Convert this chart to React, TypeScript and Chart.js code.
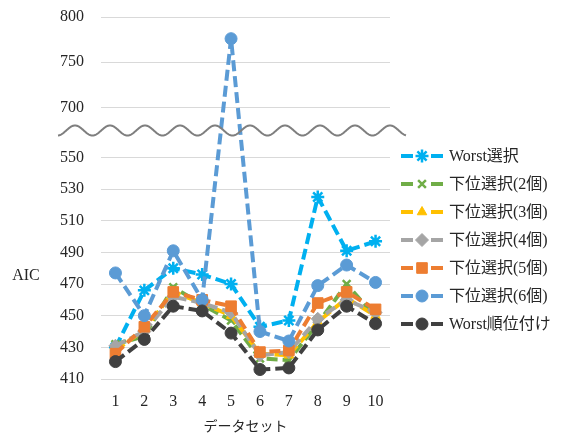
import React, { useEffect, useRef } from 'react';
import { Chart, registerables } from 'chart.js';
import { drawPoint } from 'chart.js/helpers';

Chart.register(...registerables);

// Data sets 1..10
const categories = ['1', '2', '3', '4', '5', '6', '7', '8', '9', '10'];

const worstSelect = [430, 466, 480, 476, 470, 443, 447, 525, 491, 497];
const lowerSelect2 = [432, 437, 468, 457, 447, 423, 422, 445, 470, 449];
const lowerSelect3 = [428, 441, 465, 458, 450, 426, 425, 446, 461, 450];
const lowerSelect4 = [431, 440, 462, 458, 452, 425, 427, 448, 460, 452];
const lowerSelect5 = [426, 443, 465, 460, 456, 427, 428, 458, 465, 454];
const lowerSelect6 = [477, 450, 491, 460, 776, 440, 434, 469, 482, 471];
const worstRanking = [421, 435, 456, 453, 439, 416, 417, 441, 456, 445];

const yTickValues = [410, 430, 450, 470, 490, 510, 530, 550, 700, 750, 800];

// Broken value axis: the lower band (410-570) and upper band (700-800)
// use different scales; values are mapped onto one linear axis.
const LOWER_MAX = 570;
const UPPER_START = 700;
const UPPER_START_AXIS = 581.6;
const UPPER_RATIO = 0.571;
const BREAK_AXIS = 567;

const toAxis = (v: number) =>
  v <= LOWER_MAX ? v : UPPER_START_AXIS + (v - UPPER_START) * UPPER_RATIO;
const fromAxis = (a: number) =>
  a <= LOWER_MAX + 0.5 ? a : UPPER_START + (a - UPPER_START_AXIS) / UPPER_RATIO;

const series = [
  { label: 'Worst選択', data: worstSelect, color: '#00B0F0', pointStyle: 'star', radius: 6.5, pw: 2.5 },
  { label: '下位選択(2個)', data: lowerSelect2, color: '#70AD47', pointStyle: 'crossRot', radius: 5.5, pw: 2.5 },
  { label: '下位選択(3個)', data: lowerSelect3, color: '#FFC000', pointStyle: 'triangle', radius: 5.5, pw: 1 },
  { label: '下位選択(4個)', data: lowerSelect4, color: '#A5A5A5', pointStyle: 'rectRot', radius: 6.5, pw: 1 },
  { label: '下位選択(5個)', data: lowerSelect5, color: '#ED7D31', pointStyle: 'rect', radius: 7.5, pw: 1 },
  { label: '下位選択(6個)', data: lowerSelect6, color: '#5B9BD5', pointStyle: 'circle', radius: 6, pw: 1 },
  { label: 'Worst順位付け', data: worstRanking, color: '#404040', pointStyle: 'circle', radius: 6, pw: 1 },
];

const SERIF = "'Liberation Serif', 'Noto Sans CJK JP', serif";
const TEXT_COLOR = '#262626';

const breakAndLegend = {
  id: 'breakAndLegend',
  afterDraw(chart: any) {
    const { ctx, chartArea, scales } = chart;
    const y = scales.y.getPixelForValue(BREAK_AXIS);

    // wavy break mark across the value axis
    ctx.save();
    ctx.strokeStyle = '#7F7F7F';
    ctx.lineWidth = 2;
    ctx.beginPath();
    const x0 = chartArea.left - 43;
    const x1 = chartArea.right + 16;
    const period = 35;
    const amp = 5;
    const phaseX = chartArea.left - 26;
    for (let x = x0; x <= x1; x += 0.5) {
      const yy = y - amp * Math.cos((2 * Math.PI * (x - phaseX)) / period);
      if (x === x0) ctx.moveTo(x, yy);
      else ctx.lineTo(x, yy);
    }
    ctx.stroke();
    ctx.restore();

    // value axis title
    ctx.save();
    ctx.fillStyle = TEXT_COLOR;
    ctx.font = `16px ${SERIF}`;
    ctx.textAlign = 'center';
    ctx.textBaseline = 'middle';
    ctx.fillText('AIC', 26, 276);
    ctx.restore();

    // legend
    ctx.save();
    series.forEach((s, i) => {
      const ly = 156 + i * 28;
      ctx.strokeStyle = s.color;
      ctx.fillStyle = s.color;
      ctx.lineWidth = 4;
      ctx.setLineDash([]);
      ctx.lineCap = 'butt';
      ctx.beginPath();
      ctx.moveTo(401, ly);
      ctx.lineTo(413, ly);
      ctx.moveTo(431, ly);
      ctx.lineTo(443, ly);
      ctx.stroke();
      ctx.lineWidth = s.pw;
      drawPoint(ctx, { pointStyle: s.pointStyle, radius: s.radius, rotation: 0, borderWidth: s.pw } as any, 422, ly);
      ctx.fillStyle = TEXT_COLOR;
      ctx.font = `16px ${SERIF}`;
      ctx.textAlign = 'left';
      ctx.textBaseline = 'middle';
      ctx.fillText(s.label, 449, ly + 1);
    });
    ctx.restore();
  },
};

export default function App() {
  const canvasRef = useRef<HTMLCanvasElement | null>(null);

  useEffect(() => {
    if (!canvasRef.current) return;
    const n = series.length;
    const chart = new Chart(canvasRef.current, {
      type: 'line',
      data: {
        labels: categories,
        datasets: series.map((s, i) => ({
          label: s.label,
          data: s.data.map(toAxis),
          borderColor: s.color,
          backgroundColor: s.color,
          borderWidth: 4,
          borderDash: [11, 5],
          borderJoinStyle: 'round' as const,
          pointStyle: s.pointStyle as any,
          pointRadius: s.radius,
          pointBorderWidth: s.pw,
          pointBorderColor: s.color,
          pointBackgroundColor: s.color,
          fill: false,
          tension: 0,
          order: n - i,
        })),
      },
      options: {
        responsive: false,
        animation: false,
        layout: { padding: { top: 17, right: 171, left: 0, bottom: 0 } },
        plugins: {
          legend: { display: false },
          tooltip: { enabled: false },
        },
        scales: {
          x: {
            type: 'category',
            offset: true,
            grid: { display: false, drawTicks: false },
            border: { display: false },
            ticks: { color: TEXT_COLOR, font: { family: SERIF, size: 16 }, padding: 13 },
            title: {
              display: true,
              text: 'データセット',
              color: TEXT_COLOR,
              font: { family: "'Noto Sans CJK JP', sans-serif", size: 14 },
              padding: { top: 0, bottom: 1 },
            },
            afterFit: (scale: any) => {
              scale.height = 56;
              scale.paddingLeft = 0;
              scale.paddingRight = 0;
            },
          },
          y: {
            type: 'linear',
            min: toAxis(410),
            max: toAxis(800),
            grid: { color: '#D9D9D9', lineWidth: 1, drawTicks: false },
            border: { display: false },
            ticks: {
              color: TEXT_COLOR,
              font: { family: SERIF, size: 16 },
              padding: 17,
              callback: (value: any) => String(Math.round(fromAxis(Number(value)))),
            },
            afterBuildTicks: (scale: any) => {
              scale.ticks = yTickValues.map((v) => ({ value: toAxis(v) }));
            },
            afterFit: (scale: any) => {
              scale.width = 101;
              scale.paddingTop = 0;
              scale.paddingBottom = 0;
            },
          },
        },
      },
      plugins: [breakAndLegend],
    });
    return () => chart.destroy();
  }, []);

  return (
    <div style={{ position: 'absolute', left: 0, top: 0, width: 561, height: 435, background: '#fff' }}>
      <canvas ref={canvasRef} width={561} height={435} style={{ display: 'block' }} />
    </div>
  );
}
